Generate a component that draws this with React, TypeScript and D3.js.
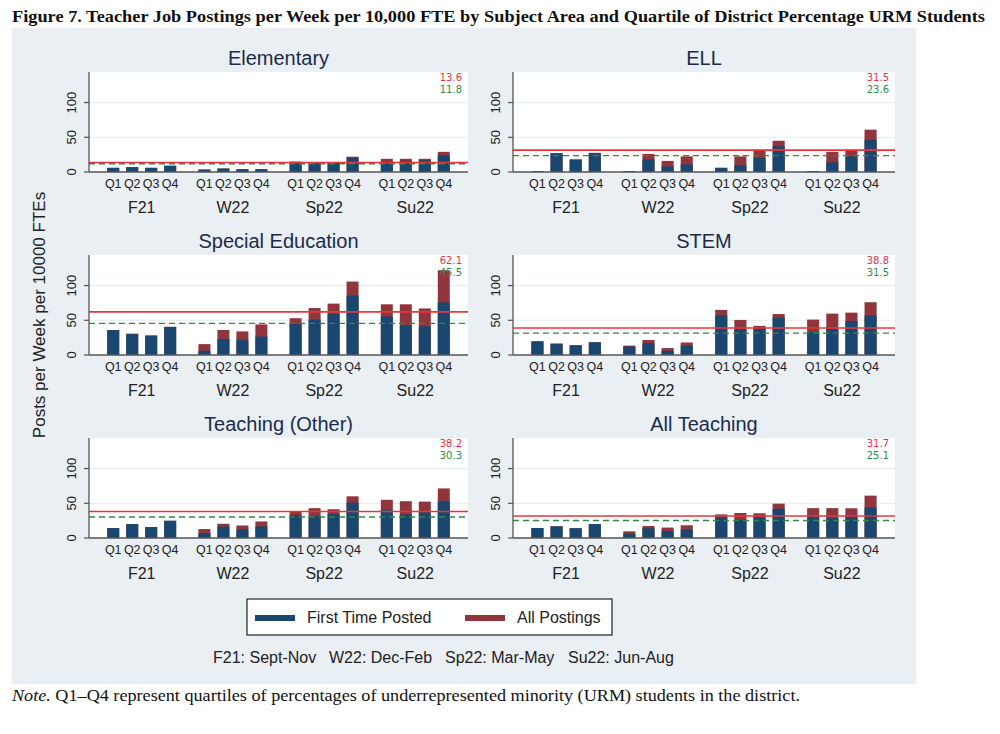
import React from "react";
import * as d3 from "d3";

const periods = ["F21", "W22", "Sp22", "Su22"];
const quartiles = ["Q1", "Q2", "Q3", "Q4"];
const panelNames = ["Elementary", "ELL", "Special Education", "STEM", "Teaching (Other)", "All Teaching"];
const periodNotes = ["F21: Sept-Nov", "W22: Dec-Feb", "Sp22: Mar-May", "Su22: Jun-Aug"];

// values ordered F21 Q1..Q4, W22 Q1..Q4, Sp22 Q1..Q4, Su22 Q1..Q4
const elementaryFirst = [6, 7, 6, 9, 3.5, 5, 4, 4, 14.5, 13, 13.5, 21, 15, 16, 17, 24];
const elementaryAll = [6, 7, 6, 9, 3.5, 5, 4, 4, 15, 14, 14, 22, 19, 19, 19, 29];
const ellFirst = [1, 27, 18, 27.5, 1, 18, 8, 11, 6, 9.5, 20.5, 37, 1, 14, 22.5, 46.5];
const ellAll = [1, 27, 18, 27.5, 1, 26, 16, 22.5, 6, 22.5, 32, 45, 1, 29, 32, 61];
const spedFirst = [36, 30.5, 28, 40.5, 6, 23, 22, 26.5, 45, 51, 59.5, 85.7, 55.7, 42.4, 41.4, 75.7];
const spedAll = [36, 30.5, 28, 40.5, 15.7, 36, 34, 44, 53, 67.6, 74, 105.7, 73, 73, 67, 122];
const stemFirst = [19.7, 16.3, 14, 18.3, 12, 17, 6, 13.5, 57, 37.5, 39, 54, 33, 38, 49, 57];
const stemAll = [19.7, 16.3, 14, 18.3, 13.5, 21.6, 10, 18, 65, 50.5, 42, 59, 51, 59.6, 61, 76];
const otherFirst = [14.3, 20, 15.7, 24.8, 7, 16.7, 12.4, 16.7, 33, 32, 34.8, 51, 40.5, 34, 37, 53];
const otherAll = [14.3, 20, 15.7, 24.8, 12.9, 20.5, 18, 23.8, 38, 43, 41.4, 60, 55, 53, 52.4, 71.4];
const allFirst = [14.4, 16.8, 14, 20, 5.8, 14, 10, 12.5, 29.8, 26.4, 30, 42, 31.7, 28.8, 31, 44];
const allAll = [14.4, 16.8, 14, 20, 9.6, 17.3, 15, 18.3, 34, 36, 35.6, 49.5, 43, 43, 42.8, 61];

const firstSeries = [elementaryFirst, ellFirst, spedFirst, stemFirst, otherFirst, allFirst];
const allSeries = [elementaryAll, ellAll, spedAll, stemAll, otherAll, allAll];
const meanAll = [13.6, 31.5, 62.1, 38.8, 38.2, 31.7];
const meanFirst = [11.8, 23.6, 45.5, 31.5, 30.3, 25.1];
const yTicks = [0, 50, 100];

const NAVY = "#1a476f";
const MAROON = "#90353b";
const RED = "#e8343c";
const GREEN = "#2e8b46";
const BG = "#e9eff2";
const SANS = "'Liberation Sans', Arial, sans-serif";
const SERIF = "'Liberation Serif', 'Times New Roman', serif";

const cols = [
  { x0: 89, x1: 468 },
  { x0: 513, x1: 895 },
];
const rows = [
  { top: 72, bottom: 172 },
  { top: 255, bottom: 355 },
  { top: 438, bottom: 538 },
];

function Panel({ idx }: { idx: number }) {
  const c = cols[idx % 2];
  const r = rows[Math.floor(idx / 2)];
  const y = d3.scaleLinear().domain([0, 144]).range([r.bottom, r.top]);
  const xg = d3.scaleBand().domain(periods).range([c.x0, c.x1]).paddingInner(0.244).paddingOuter(0.2);
  const xq = d3.scaleBand().domain(quartiles).range([0, xg.bandwidth()]).paddingInner(0.368).paddingOuter(0);
  const first = firstSeries[idx];
  const all = allSeries[idx];
  const bars: any[] = [];
  periods.forEach((p, gi) => {
    quartiles.forEach((q, qi) => {
      const i = gi * 4 + qi;
      bars.push({ x: (xg(p) as number) + (xq(q) as number), first: first[i], all: all[i], q, p });
    });
  });
  return (
    <g>
      <rect x={c.x0} y={r.top} width={c.x1 - c.x0} height={r.bottom - r.top} fill="#ffffff" />
      {yTicks.filter((t) => t > 0).map((t) => (
        <line key={t} x1={c.x0} x2={c.x1} y1={y(t)} y2={y(t)} stroke="#eaf0f2" strokeWidth={1.2} />
      ))}
      <text x={(c.x0 + c.x1) / 2} y={r.top - 7} textAnchor="middle" fontFamily={SANS} fontSize={20} fill="#1c2b4b">
        {panelNames[idx]}
      </text>
      {bars.map((b, i) => (
        <g key={i}>
          <rect x={b.x} y={y(b.all)} width={xq.bandwidth()} height={y(0) - y(b.all)} fill={MAROON} />
          <rect x={b.x} y={y(b.first)} width={xq.bandwidth()} height={y(0) - y(b.first)} fill={NAVY} />
        </g>
      ))}
      <line x1={c.x0} x2={c.x1} y1={y(meanAll[idx])} y2={y(meanAll[idx])} stroke={RED} strokeWidth={1.6} />
      <line x1={c.x0} x2={c.x1} y1={y(meanFirst[idx])} y2={y(meanFirst[idx])} stroke={GREEN} strokeWidth={1.4} strokeDasharray="6,4" />
      <text x={c.x1 - 6} y={r.top + 9} textAnchor="end" fontFamily="'DejaVu Sans', sans-serif" fontSize={10} fill={RED}>
        {meanAll[idx].toFixed(1)}
      </text>
      <text x={c.x1 - 6} y={r.top + 21} textAnchor="end" fontFamily="'DejaVu Sans', sans-serif" fontSize={10} fill={GREEN}>
        {meanFirst[idx].toFixed(1)}
      </text>
      <line x1={c.x0} x2={c.x0} y1={r.top} y2={r.bottom} stroke="#555" strokeWidth={1.3} />
      <line x1={c.x0} x2={c.x1} y1={r.bottom} y2={r.bottom} stroke="#555" strokeWidth={1.3} />
      {yTicks.map((t) => (
        <g key={t}>
          <line x1={c.x0 - 5} x2={c.x0} y1={y(t)} y2={y(t)} stroke="#555" strokeWidth={1.2} />
          <text
            transform={`translate(${c.x0 - 13.5},${y(t)}) rotate(-90)`}
            textAnchor="middle"
            fontFamily={SANS}
            fontSize={13}
            fill="#222"
          >
            {t}
          </text>
        </g>
      ))}
      {bars.map((b, i) => (
        <text key={"q" + i} x={b.x + xq.bandwidth() / 2} y={r.bottom + 16} textAnchor="middle" fontFamily={SANS} fontSize={12.5} fill="#222">
          {b.q}
        </text>
      ))}
      {periods.map((p) => (
        <text key={p} x={(xg(p) as number) + xg.bandwidth() / 2} y={r.bottom + 41} textAnchor="middle" fontFamily={SANS} fontSize={16} fill="#222">
          {p}
        </text>
      ))}
    </g>
  );
}

const noteX = [213, 329, 445, 568];

export default function App() {
  return (
    <svg width={1000} height={734} style={{ position: "absolute", left: 0, top: 0, background: "#fff" }}>
      <rect x={0} y={0} width={1000} height={734} fill="#ffffff" />
      <text x={12} y={22} fontFamily={SERIF} fontWeight="bold" fontSize={17} textLength={973} lengthAdjust="spacingAndGlyphs" fill="#111">
        Figure 7. Teacher Job Postings per Week per 10,000 FTE by Subject Area and Quartile of District Percentage URM Students
      </text>
      <rect x={12} y={28} width={904} height={656} fill={BG} />
      {panelNames.map((_, i) => (
        <Panel key={i} idx={i} />
      ))}
      <text transform="translate(45,315) rotate(-90)" textAnchor="middle" fontFamily={SANS} fontSize={17} fill="#222">
        Posts per Week per 10000 FTEs
      </text>
      <rect x={247} y={599} width={365} height={36} fill="#fff" stroke="#222" strokeWidth={1.2} />
      <rect x={255} y={615} width={40} height={6} fill={NAVY} />
      <text x={307} y={623} fontFamily={SANS} fontSize={16} fill="#222">First Time Posted</text>
      <rect x={465} y={615} width={40} height={6} fill={MAROON} />
      <text x={517} y={623} fontFamily={SANS} fontSize={16} fill="#222">All Postings</text>
      {periodNotes.map((n, i) => (
        <text key={n} x={noteX[i]} y={663} fontFamily={SANS} fontSize={16} fill="#222">
          {n}
        </text>
      ))}
      <text x={12} y={701} fontFamily={SERIF} fontSize={17} fill="#111" textLength={788} lengthAdjust="spacingAndGlyphs">
        <tspan fontStyle="italic">Note.</tspan> Q1–Q4 represent quartiles of percentages of underrepresented minority (URM) students in the district.
      </text>
    </svg>
  );
}
